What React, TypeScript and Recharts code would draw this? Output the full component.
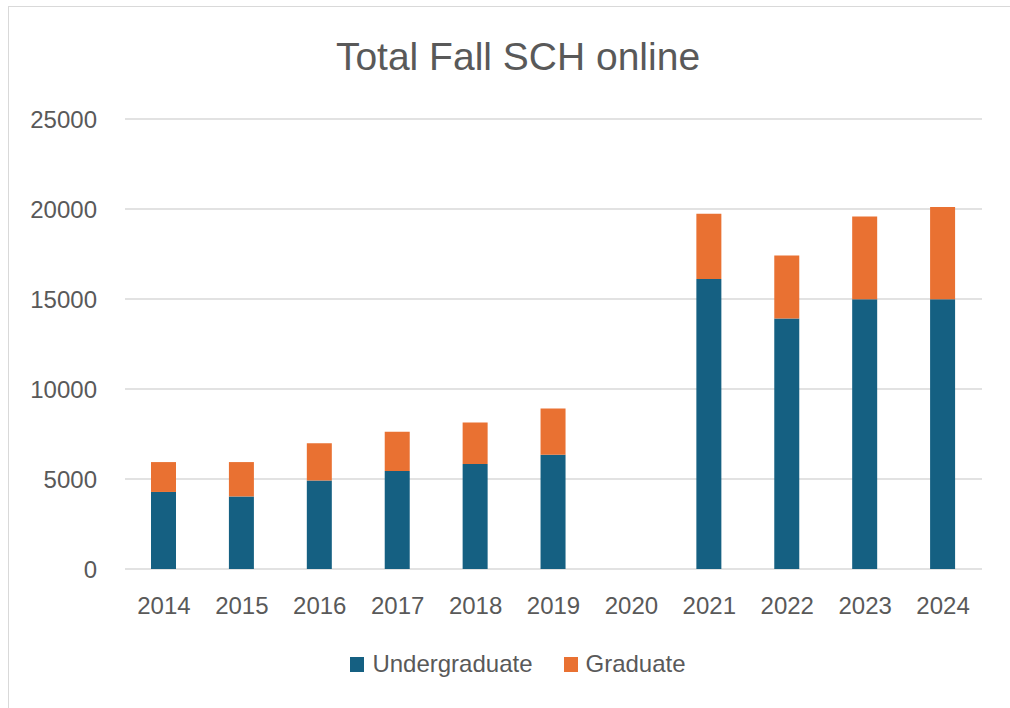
import React from "react";
import { BarChart, Bar, XAxis, YAxis, CartesianGrid } from "recharts";

const years = ["2014", "2015", "2016", "2017", "2018", "2019", "2020", "2021", "2022", "2023", "2024"];
const undergraduate = [4280, 4030, 4920, 5440, 5830, 6350, null, 16110, 13920, 14990, 14990];
const graduate = [1660, 1910, 2060, 2190, 2310, 2570, null, 3630, 3490, 4600, 5120];
const yTicks = [0, 5000, 10000, 15000, 20000, 25000];

const seriesNames = ["Undergraduate", "Graduate"];
const seriesColors = ["#156082", "#E97132"];

const FONT = "'Liberation Sans', Arial, sans-serif";
const TEXT = "#595959";

const data = years.map((year, i) => ({
  year,
  Undergraduate: undergraduate[i],
  Graduate: graduate[i],
}));

export default function App() {
  return (
    <div
      style={{
        position: "absolute",
        left: 0,
        top: 0,
        width: 1010,
        height: 708,
        background: "#fff",
        overflow: "hidden",
        fontFamily: FONT,
      }}
    >
      {/* chart frame */}
      <div
        style={{
          position: "absolute",
          left: 8,
          top: 6,
          width: 1040,
          height: 740,
          border: "1.5px solid #d9d9d9",
          boxSizing: "border-box",
        }}
      />
      <div
        style={{
          position: "absolute",
          left: 0,
          width: 1036,
          top: 34,
          textAlign: "center",
          fontSize: 39,
          lineHeight: "46px",
          color: TEXT,
        }}
      >
        Total Fall SCH online
      </div>

      <div style={{ position: "absolute", left: 0, top: 0 }}>
        <BarChart
          width={1010}
          height={708}
          data={data}
          margin={{ top: 119, right: 28, bottom: 79, left: 0 }}
        >
          <CartesianGrid vertical={false} stroke="#d9d9d9" strokeWidth={1.5} />
          <XAxis
            dataKey="year"
            axisLine={false}
            tickLine={false}
            tickSize={0}
            tickMargin={28}
            height={60}
            tick={{ fontSize: 24, fill: TEXT, fontFamily: FONT }}
          />
          <YAxis
            domain={[0, 25000]}
            ticks={yTicks}
            axisLine={false}
            tickLine={false}
            tickSize={0}
            tickMargin={28}
            width={125}
            tick={{ fontSize: 24, fill: TEXT, fontFamily: FONT }}
          />
          <Bar
            dataKey="Undergraduate"
            stackId="a"
            fill={seriesColors[0]}
            barSize={25}
            isAnimationActive={false}
          />
          <Bar
            dataKey="Graduate"
            stackId="a"
            fill={seriesColors[1]}
            barSize={25}
            isAnimationActive={false}
          />
        </BarChart>
      </div>

      {/* legend */}
      <div
        style={{
          position: "absolute",
          left: 0,
          width: 1036,
          top: 650,
          display: "flex",
          justifyContent: "center",
          alignItems: "center",
          gap: 31,
          fontSize: 24,
          color: TEXT,
          lineHeight: "28px",
        }}
      >
        {seriesNames.map((name, i) => (
          <div key={name} style={{ display: "flex", alignItems: "center" }}>
            <span
              style={{
                display: "inline-block",
                width: 14,
                height: 15,
                background: seriesColors[i],
                marginRight: 8,
              }}
            />
            <span>{name}</span>
          </div>
        ))}
      </div>
    </div>
  );
}
